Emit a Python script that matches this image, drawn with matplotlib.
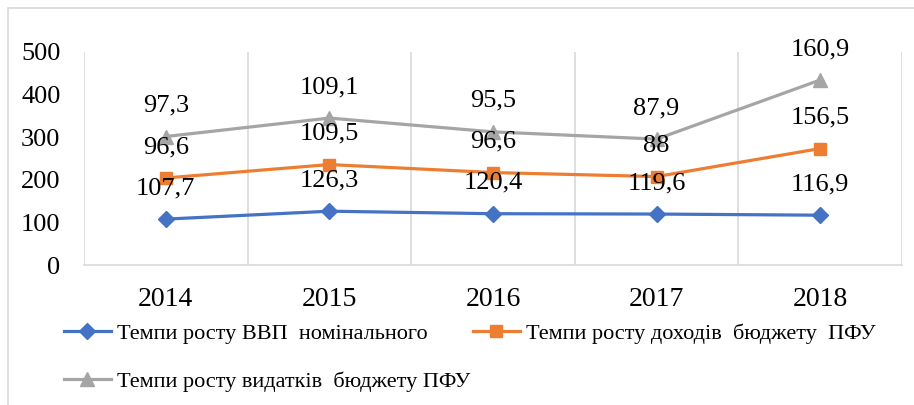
import matplotlib
matplotlib.use("Agg")
import matplotlib.pyplot as plt
from matplotlib.patches import Rectangle
from matplotlib.lines import Line2D

years = ["2014", "2015", "2016", "2017", "2018"]
gdp = [107.7, 126.3, 120.4, 119.6, 116.9]
revenue = [96.6, 109.5, 96.6, 88, 156.5]
expenses = [97.3, 109.1, 95.5, 87.9, 160.9]
names = ["Темпи росту ВВП  номінального",
         "Темпи росту доходів  бюджету  ПФУ",
         "Темпи росту видатків  бюджету ПФУ"]
colors = ["#4472C4", "#ED7D31", "#A5A5A5"]
markers = ["D", "s", "^"]
msizes = [8, 8.5, 9.5]

plt.rcParams['font.family'] = ['Liberation Serif', 'DejaVu Serif']

W, H = 914, 405
fig = plt.figure(figsize=(W / 100, H / 100), dpi=100)
ax = fig.add_axes([84 / W, 1 - 265 / H, (902 - 84) / W, (265 - 52) / H])

# outer chart border
fig.patches.append(Rectangle((8 / W, -0.1), 1.2, 1.1 - 8 / H, transform=fig.transFigure,
                             fill=False, edgecolor="#D9D9D9", linewidth=1.2))

x = list(range(len(years)))
series = [gdp, revenue, expenses]
cum = [0.0] * len(years)
handles = []
for s, c, m, ms in zip(series, colors, markers, msizes):
    cum = [a + b for a, b in zip(cum, s)]
    ax.plot(x, cum, color=c, linewidth=2.3, marker=m, markersize=ms, zorder=3,
            solid_capstyle='round')
    for xi, yi, v in zip(x, cum, s):
        txt = f"{v:g}".replace(".", ",")
        ax.annotate(txt, (xi, yi), xytext=(0, 31), textcoords='offset pixels',
                    ha='center', va='center', fontsize=19, color='black', zorder=4)
    handles.append(Line2D([], [], color=c, linewidth=2.3, marker=m, markersize=ms))

ax.set_xlim(-0.5, len(years) - 0.5)
ax.set_ylim(0, 500)
ax.set_yticks([0, 100, 200, 300, 400, 500])
ax.set_xticks(x)
ax.set_xticklabels(years)
ax.set_xticks([i - 0.5 for i in range(len(years) + 1)], minor=True)
ax.grid(True, which='minor', axis='x', color="#D9D9D9", linewidth=1.2)
ax.tick_params(axis='both', which='both', length=0, labelsize=19)
ax.tick_params(axis='y', pad=17)
ax.tick_params(axis='x', pad=16)
for lab in ax.get_xticklabels():
    lab.set_fontsize(20)
for sp in ['top', 'left', 'right']:
    ax.spines[sp].set_visible(False)
ax.spines['bottom'].set_color("#D9D9D9")
ax.spines['bottom'].set_linewidth(1.2)

# row-major order: blue, orange in row 1; grey in row 2
order = [0, 2, 1]
fig.legend([handles[i] for i in order], [names[i] for i in order], loc='upper left',
           bbox_to_anchor=(64 / W, 1 - 323 / H),
           ncol=2, frameon=False, fontsize=16, handlelength=2.1, handletextpad=0.3,
           columnspacing=0.1, labelspacing=1.25, borderaxespad=0, borderpad=0)

fig.savefig("out.png", dpi=100)
